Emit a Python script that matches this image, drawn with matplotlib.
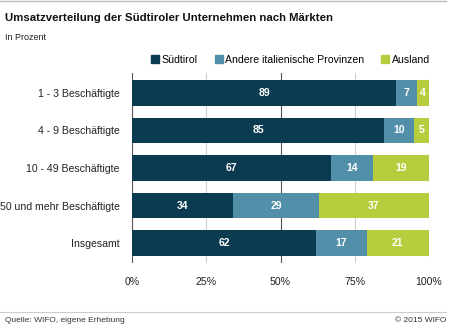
import numpy as np
import matplotlib
matplotlib.use("Agg")
import matplotlib.pyplot as plt
from matplotlib.lines import Line2D

plt.rcParams['font.family'] = ['Liberation Sans', 'DejaVu Sans']

categories = ['1 - 3 Beschäftigte', '4 - 9 Beschäftigte', '10 - 49 Beschäftigte',
              '50 und mehr Beschäftigte', 'Insgesamt']
suedtirol = [89, 85, 67, 34, 62]
italien = [7, 10, 14, 29, 17]
ausland = [4, 5, 19, 37, 21]
series_names = ['Südtirol', 'Andere italienische Provinzen', 'Ausland']
colors = ['#0b3b50', '#5190a8', '#b8cd3e']
xticks = [0, 25, 50, 75, 100]

fig = plt.figure(figsize=(4.5, 3.31), dpi=100)
ax = fig.add_axes([132 / 450, 1 - 263 / 331, 297 / 450, 190 / 331])

y = np.arange(len(categories))
# gridlines behind bars
for xv in xticks:
    c = '#555555' if xv in (0, 50) else '#d0d0d0'
    ax.axvline(xv, color=c, lw=0.8, zorder=0)

left = np.zeros(len(categories))
for vals, col in zip([suedtirol, italien, ausland], colors):
    vals = np.array(vals)
    ax.barh(y, vals, left=left, height=0.68, color=col, zorder=2)
    for yi, l, v in zip(y, left, vals):
        ax.text(l + v / 2, yi, str(v), ha='center', va='center', color='white',
                fontsize=7.5, fontweight='bold', zorder=3)
    left = left + vals

ax.set_xlim(0, 100)
ax.set_ylim(4.53, -0.53)
ax.set_yticks(y)
ax.set_yticklabels(categories, fontsize=7.6, color='#222222')
ax.set_xticks(xticks)
ax.set_xticklabels([f'{v}%' for v in xticks], fontsize=7.6, color='#222222')
ax.tick_params(length=0, pad=10)
ax.tick_params(axis='y', pad=9)
for s in ax.spines.values():
    s.set_visible(False)

# legend
handles = [Line2D([], [], marker='s', ls='', color=c, markersize=5.5) for c in colors]
fig.legend(handles, series_names, loc='center left', bbox_to_anchor=(147 / 450, 1 - 60 / 331),
           ncol=3, frameon=False, fontsize=7.6, handletextpad=0.2, columnspacing=1.6,
           borderaxespad=0, handlelength=0.8)

# title and notes
fig.text(5 / 450, 1 - 18 / 331, 'Umsatzverteilung der Südtiroler Unternehmen nach Märkten',
         fontsize=8.2, fontweight='bold', va='center', color='#111111')
fig.text(5 / 450, 1 - 38 / 331, 'In Prozent', fontsize=6.5, va='center', color='#222222')
fig.text(5 / 450, 1 - 321 / 331, 'Quelle: WIFO, eigene Erhebung', fontsize=6,
         va='center', color='#333333')
fig.text(446 / 450, 1 - 321 / 331, '© 2015 WIFO', fontsize=6, ha='right',
         va='center', color='#333333')
fig.add_artist(Line2D([0, 446 / 450], [1 - 1 / 331, 1 - 1 / 331], color='#bbbbbb', lw=1))
fig.add_artist(Line2D([0, 446 / 450], [1 - 312 / 331, 1 - 312 / 331], color='#cccccc', lw=0.8))

fig.savefig('out.png', dpi=100)
